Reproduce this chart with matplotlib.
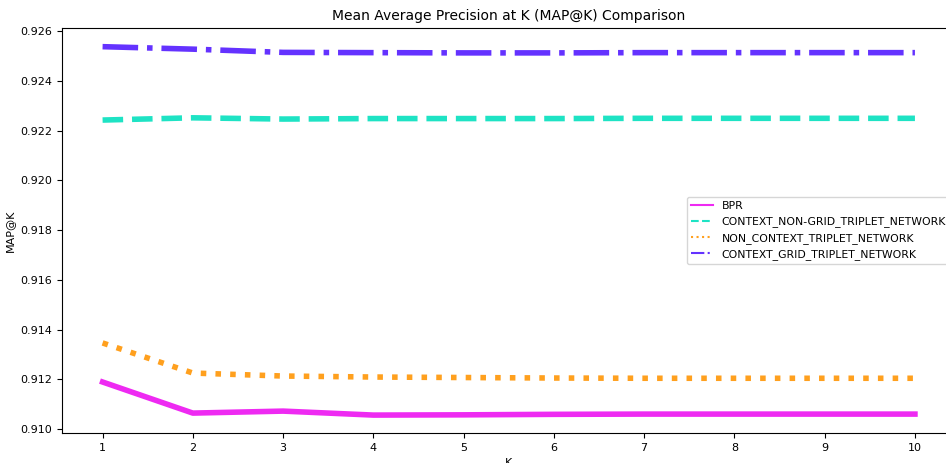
import matplotlib
matplotlib.use('Agg')
import matplotlib.pyplot as plt
from matplotlib.lines import Line2D

# MAP@K for each model, K = 1..10
k_values = [1, 2, 3, 4, 5, 6, 7, 8, 9, 10]
bpr = [0.91189, 0.91064, 0.91072, 0.91056, 0.91057, 0.91059, 0.91060, 0.91060, 0.91060, 0.91060]
context_non_grid = [0.92242, 0.92251, 0.92246, 0.92248, 0.92248, 0.92248, 0.92249, 0.92249, 0.92249, 0.92249]
non_context = [0.91346, 0.91225, 0.91213, 0.91209, 0.91207, 0.91205, 0.91204, 0.91204, 0.91204, 0.91204]
context_grid = [0.92537, 0.92527, 0.92514, 0.92513, 0.92512, 0.92512, 0.92513, 0.92513, 0.92513, 0.92513]

names = ["BPR", "CONTEXT_NON-GRID_TRIPLET_NETWORK", "NON_CONTEXT_TRIPLET_NETWORK", "CONTEXT_GRID_TRIPLET_NETWORK"]
series = [bpr, context_non_grid, non_context, context_grid]
colors = ["#ee2af2", "#1ee3c4", "#ffa01e", "#6432ff"]
styles = ["-", "--", ":", "-."]

fig = plt.figure(figsize=(9.46, 4.63), dpi=100)
ax = fig.add_axes([0.0655, 0.0648, 0.9446, 0.8747])

for vals, c, ls in zip(series, colors, styles):
    ax.plot(k_values, vals, color=c, linestyle=ls, linewidth=4)

ax.set_xticks(k_values)
ax.set_ylim(0.90984, 0.92612)
ax.set_yticks([0.910, 0.912, 0.914, 0.916, 0.918, 0.920, 0.922, 0.924, 0.926])
ax.tick_params(labelsize=8)
ax.set_title("Mean Average Precision at K (MAP@K) Comparison", fontsize=10)
ax.set_xlabel("K", fontsize=8)
ax.set_ylabel("MAP@K", fontsize=8)

# thin legend handles, independent of the plotted line widths
handles = [Line2D([], [], color=c, linestyle=ls, linewidth=1.5) for c, ls in zip(colors, styles)]
ax.legend(handles, names, loc="center right", fontsize=7.8)

plt.savefig("out.png", dpi=100)
plt.close()
